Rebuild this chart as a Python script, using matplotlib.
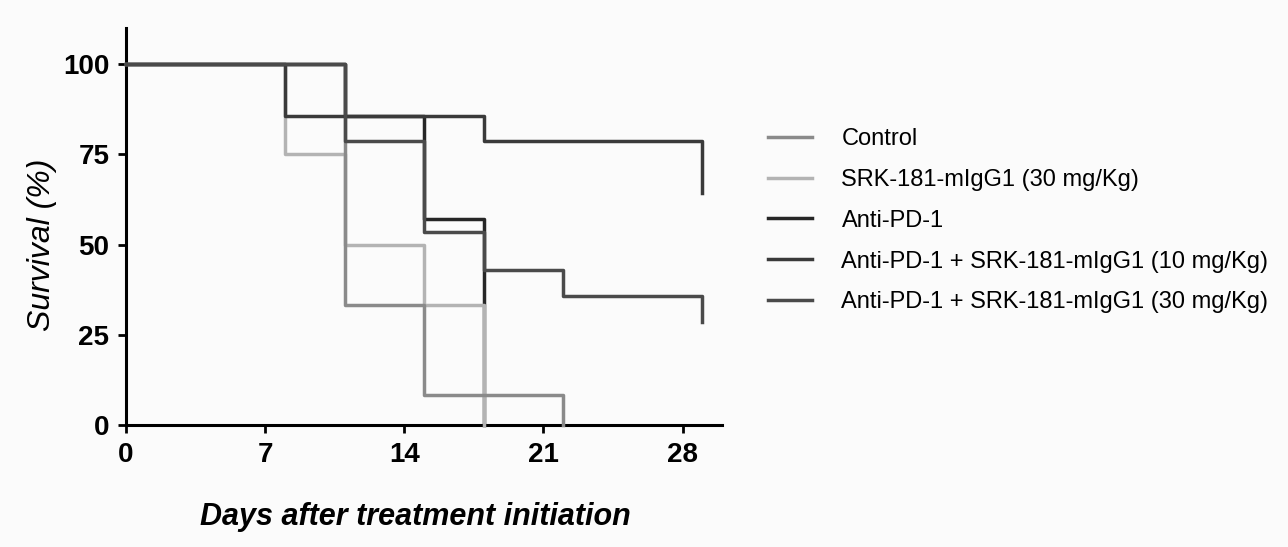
import matplotlib.pyplot as plt

plt.rcParams['font.family'] = ['Liberation Sans', 'DejaVu Sans']

labels = ['Control', 'SRK-181-mIgG1 (30 mg/Kg)', 'Anti-PD-1',
          'Anti-PD-1 + SRK-181-mIgG1 (10 mg/Kg)', 'Anti-PD-1 + SRK-181-mIgG1 (30 mg/Kg)']

# days / survival (%) of each Kaplan-Meier step curve
control_t = [0, 11, 15, 22, 22]
control_s = [100, 33.3, 8.3, 0, 0]
srk_t = [0, 8, 11, 15, 18, 18]
srk_s = [100, 75, 50, 33.3, 0, 0]
pd1_t = [0, 11, 15, 18, 18]
pd1_s = [100, 85.7, 57.1, 0, 0]
combo10_t = [0, 8, 18, 29, 29]
combo10_s = [100, 85.7, 78.6, 64.3, 64.3]
combo30_t = [0, 11, 15, 18, 22, 29, 29]
combo30_s = [100, 78.6, 53.6, 42.9, 35.7, 28.6, 28.6]

series = [(control_t, control_s), (srk_t, srk_s), (pd1_t, pd1_s),
          (combo10_t, combo10_s), (combo30_t, combo30_s)]
colors = ['#8a8a8a', '#b3b3b3', '#262626', '#3a3a3a', '#4a4a4a']
zorders = [4, 3, 2, 5, 5]

fig = plt.figure(figsize=(12.88, 5.47), dpi=100, facecolor='#fbfbfb')
ax = fig.add_axes([0.0978, 0.223, 0.463, 0.726])
ax.set_facecolor('#fbfbfb')

for (t, s), c, lab, z in zip(series, colors, labels, zorders):
    ax.step(t, s, where='post', color=c, lw=2.5, label=lab, zorder=z, clip_on=False)

ax.set_xlim(0, 30)
ax.set_ylim(0, 110)
ax.set_xticks([0, 7, 14, 21, 28])
ax.set_yticks([0, 25, 50, 75, 100])
for sp in ['top', 'right']:
    ax.spines[sp].set_visible(False)
for sp in ['left', 'bottom']:
    ax.spines[sp].set_linewidth(2.2)
ax.tick_params(length=6, width=2, labelsize=20, pad=6)
for lbl in ax.get_xticklabels() + ax.get_yticklabels():
    lbl.set_fontweight('bold')

ax.set_ylabel('Survival (%)', fontsize=23, style='italic')
ax.yaxis.set_label_coords(-0.115, 50 / 110)
ax.set_xlabel('Days after treatment initiation', fontsize=22, style='italic',
              fontweight='bold')
ax.xaxis.set_label_coords(0.485, -0.195)

leg = ax.legend(loc='upper left', bbox_to_anchor=(0.58, 0.805), bbox_transform=fig.transFigure,
                frameon=False, fontsize=17, handlelength=1.85, handletextpad=1.25,
                labelspacing=0.8)

plt.savefig('out.png', dpi=100, facecolor=fig.get_facecolor())
